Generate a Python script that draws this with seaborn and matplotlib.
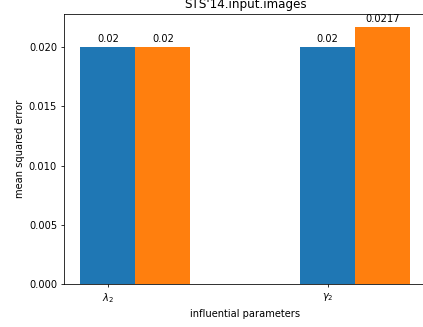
import matplotlib
matplotlib.use("Agg")
import matplotlib.pyplot as plt
import seaborn as sns
import pandas as pd

# Data
params = ["$\\lambda_2$", "$\\gamma_2$"]
series_a = [0.02, 0.02]      # blue
series_b = [0.02, 0.0217]    # orange
title = "STS'14.input.images"

bar_w = 0.25
rows = []
for i, p in enumerate(params):
    rows.append({"pos": i, "val": series_a[i], "series": "a"})
    rows.append({"pos": i + bar_w, "val": series_b[i], "series": "b"})
df = pd.DataFrame(rows)

dpi = 71
fig = plt.figure(figsize=(423 / dpi, 327 / dpi), dpi=dpi)
ax = fig.add_axes([64 / 423, 43 / 327, (426.5 - 64) / 423, 270 / 327])

sns.barplot(data=df, x="pos", y="val", hue="series", native_scale=True,
            dodge=False, width=1.0, palette=["#1f77b4", "#ff7f0e"],
            legend=False, ax=ax, errorbar=None, saturation=1)

for c in ax.containers:
    ax.bar_label(c, fmt="%g", padding=3)

ax.set_xticks(range(len(params)))
ax.set_xticklabels(params)
ax.set_xlim(-0.2, 1.45)
ax.set_ylim(0, 0.0217 * 1.05)
ax.set_xlabel("influential parameters")
ax.set_ylabel("mean squared error")
ax.set_title(title)

fig.savefig("out.png", dpi=dpi)
